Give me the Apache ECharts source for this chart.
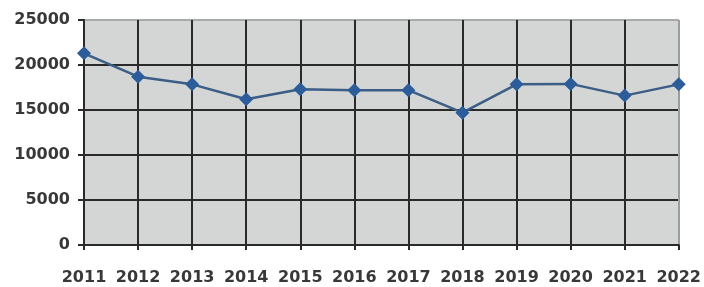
<!DOCTYPE html>
<html>
<head>
<meta charset="utf-8">
<script src="https://cdn.jsdelivr.net/npm/echarts@6/dist/echarts.min.js"></script>
<style>
  html, body { margin: 0; padding: 0; background: #fff; }
  #chart { width: 704px; height: 287px; }
</style>
</head>
<body>
<div id="chart"></div>
<script>
// data
var years = ['2011', '2012', '2013', '2014', '2015', '2016', '2017', '2018', '2019', '2020', '2021', '2022'];
var values = [21300, 18700, 17850, 16200, 17300, 17200, 17200, 14700, 17850, 17900, 16600, 17850];
var yTicks = [0, 5000, 10000, 15000, 20000, 25000];

var txt = { color: '#383838', fontFamily: 'DejaVu Sans', fontWeight: 'bold', fontSize: 16 };

var chart = echarts.init(document.getElementById('chart'));

var option = {
  animation: false,
  grid: {
    left: 84, right: 24, top: 20, bottom: 42,
    show: true,
    backgroundColor: '#d3d6d5',
    borderWidth: 0
  },
  xAxis: {
    type: 'category',
    data: years,
    boundaryGap: false,
    axisLine: { lineStyle: { color: '#2a2a2a', width: 2 } },
    axisTick: { show: true, interval: 0, length: 5, lineStyle: { color: '#2a2a2a', width: 2 } },
    axisLabel: Object.assign({ margin: 25, interval: 0 }, txt),
    splitLine: {
      show: true,
      interval: 0,
      lineStyle: {
        color: ['#2a2a2a', '#2a2a2a', '#2a2a2a', '#2a2a2a', '#2a2a2a', '#2a2a2a',
                '#2a2a2a', '#2a2a2a', '#2a2a2a', '#2a2a2a', '#2a2a2a', '#9a9d9d'],
        width: 2
      }
    }
  },
  yAxis: {
    type: 'value',
    min: yTicks[0],
    max: yTicks[yTicks.length - 1],
    interval: 5000,
    axisLine: { show: true, lineStyle: { color: '#2a2a2a', width: 2 } },
    axisTick: { show: true, length: 6, lineStyle: { color: '#2a2a2a', width: 2 } },
    axisLabel: Object.assign({ margin: 14, formatter: function (v) { return String(v); } }, txt),
    splitLine: {
      show: true,
      lineStyle: {
        color: ['#2a2a2a', '#2a2a2a', '#2a2a2a', '#2a2a2a', '#2a2a2a', '#a8abab'],
        width: 2
      }
    }
  },
  series: [{
    type: 'line',
    data: values,
    symbol: 'diamond',
    symbolSize: 14,
    lineStyle: { color: '#3b5d86', width: 2.5 },
    itemStyle: { color: '#2d5c9a' }
  }]
};

chart.setOption(option);
</script>
</body>
</html>
